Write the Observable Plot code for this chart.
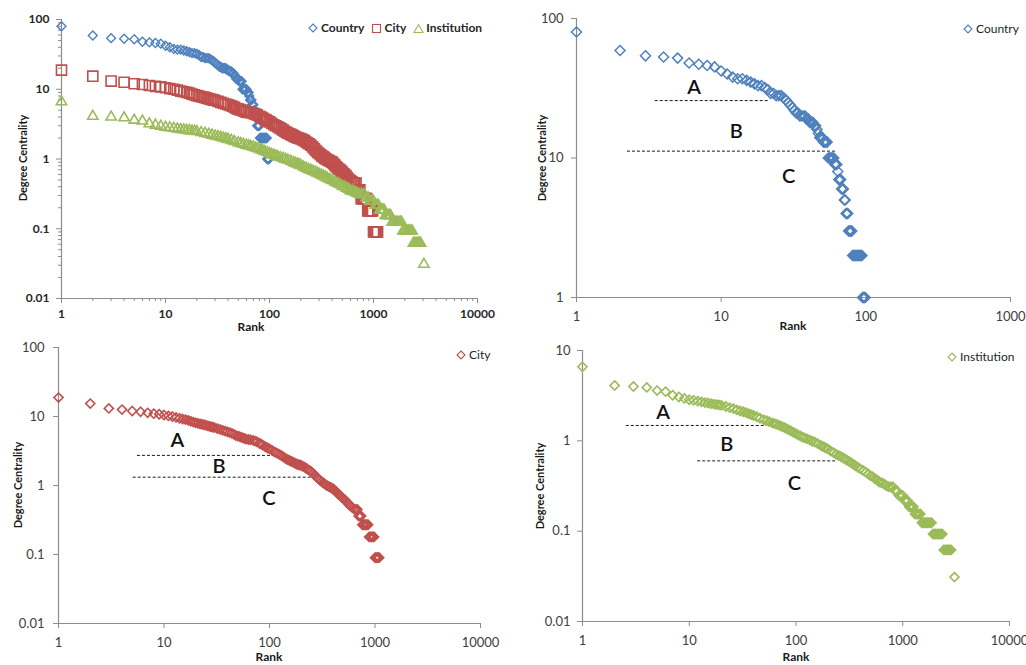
<!DOCTYPE html>
<html><head><meta charset="utf-8">
<script src="https://cdn.jsdelivr.net/npm/d3@7"></script>
<script src="https://cdn.jsdelivr.net/npm/@observablehq/plot@0.6"></script>
<style>
body{margin:0;background:#fff;font-family:Lato,"Open Sans",sans-serif;}
#wrap{position:relative;width:1026px;height:665px;overflow:hidden;background:#fff;}
.t{position:absolute;white-space:nowrap;color:#1a1a1a;line-height:1;}
.rot{transform:translate(-50%,-50%) rotate(-90deg);}
.ctr{transform:translate(-50%,-50%);}
.leg{position:absolute;display:flex;align-items:center;white-space:nowrap;font-size:12px;color:#262626;line-height:1;}
.leg svg{margin-right:2px;}
.leg span{margin-right:7px;}
</style></head>
<body><div id="wrap"></div>
<script>
// ---------------- data ----------------
const countryRank = [1,2,3,4,5,6,7,8,9,10,11,12,13,14,15,16,17,18,19,20,21,22,23,24,25,26,27,28,29,30,31,32,33,34,35,36,37,38,39,40,41,42,43,44,45,46,47,48,49,50,51,52,53,54,55,56,57,58,59,60,61,62,63,64,65,66,67,68,69,70,71,72,73,74,75,76,77,78,79,80,81,82,83,84,85,86,87,88,89,90,91,92,93,94,95,96,97,98,99];
const countryDC   = [80,59,54,53,52,48,47,46,45,42,40,38,37,37,36,35,34,33,33,32,31,29,29,28,28,28,27,26,25,24,23,22,21,21,20,20,20,20,19,19,18,18,18,17,17,16,15,14,14,14,13,13,13,13,10,10,10,10,10,10,9,9,9,8,7,7,7,6,6,6,5,5,4,4,4,3,3,3,3,3,2,2,2,2,2,2,2,2,2,2,2,2,2,2,1,1,1,1,1];

const cityRank = [1,2,3,4,5,6,7,8,9,10,11,12,13,14,15,16,17,18,19,20,21,22,23,24,25,26,27,28,29,30,32,34,36,38,40,42,44,46,48,50,52,54,56,58,60,63,66,70,73,76,80,83,86,90,93,96,100,105,110,115,120,125,130,135,140,145,150,155,160,165,170,175,180,185,190,195,200,207,215,222,230,240,250,260,270,280,290,300,310,320,330,340,350,362,375,387,400,412,425,437,450,462,475,487,500,515,530,545,560,580,600,620,640,660,680,700,720,740,760,780,800,820,840,860,880,900,920,940,960,980,1000,1020,1040,1060,1080,1095];
const cityDC   = [18.8,15.4,13.1,12.6,12.0,11.7,11.3,11.0,10.8,10.5,10.2,10.0,9.7,9.4,9.2,9.0,8.8,8.5,8.3,8.1,7.95,7.8,7.7,7.6,7.45,7.3,7.2,7.1,7.0,6.9,6.7,6.5,6.3,6.15,6.0,5.85,5.7,5.5,5.3,5.2,5.1,5.0,4.9,4.8,4.7,4.65,4.6,4.5,4.4,4.3,4.1,4.0,3.85,3.7,3.6,3.5,3.4,3.25,3.1,3.0,2.9,2.8,2.7,2.6,2.5,2.42,2.35,2.3,2.25,2.2,2.15,2.1,2.05,2.02,2.0,1.97,1.95,1.9,1.85,1.78,1.72,1.65,1.58,1.49,1.4,1.32,1.25,1.2,1.15,1.1,1.07,1.03,1.0,0.97,0.95,0.92,0.9,0.86,0.82,0.78,0.75,0.72,0.7,0.67,0.65,0.62,0.6,0.57,0.54,0.51,0.49,0.47,0.45,0.45,0.45,0.36,0.36,0.36,0.27,0.27,0.27,0.27,0.27,0.27,0.18,0.18,0.18,0.18,0.18,0.18,0.09,0.09,0.09,0.09,0.09,0.09];

const instRank = [1,2,3,4,5,6,7,8,9,10,11,12,13,14,15,16,17,18,19,20,22,24,26,28,30,32,34,36,38,40,43,46,50,53,56,60,63,66,70,74,78,82,86,90,95,100,105,110,115,120,127,135,142,150,160,170,177,185,192,200,212,225,237,250,262,275,287,300,315,330,345,360,380,400,425,450,475,500,525,550,575,600,625,650,675,700,735,770,810,850,885,920,960,1000,1040,1080,1115,1150,1185,1220,1260,1300,1340,1380,1420,1460,1510,1560,1610,1660,1710,1760,1810,1860,1920,1980,2040,2100,2160,2220,2290,2350,2420,2490,2560,2630,2700,2770,2840,3050];
const instDC   = [6.6,4.1,4.0,3.9,3.6,3.5,3.2,3.06,2.95,2.85,2.8,2.75,2.7,2.65,2.62,2.58,2.55,2.52,2.5,2.47,2.4,2.33,2.27,2.2,2.14,2.1,2.05,2.0,1.95,1.91,1.85,1.78,1.71,1.67,1.63,1.58,1.55,1.52,1.48,1.44,1.4,1.36,1.32,1.28,1.24,1.2,1.16,1.13,1.1,1.08,1.05,1.02,0.99,0.97,0.93,0.89,0.87,0.85,0.83,0.81,0.77,0.74,0.71,0.69,0.67,0.65,0.63,0.61,0.59,0.57,0.55,0.53,0.51,0.49,0.47,0.45,0.43,0.41,0.4,0.38,0.37,0.35,0.345,0.34,0.33,0.32,0.31,0.31,0.31,0.279,0.279,0.248,0.248,0.248,0.217,0.217,0.217,0.186,0.186,0.186,0.186,0.155,0.155,0.155,0.155,0.155,0.124,0.124,0.124,0.124,0.124,0.124,0.124,0.124,0.093,0.093,0.093,0.093,0.093,0.093,0.093,0.093,0.062,0.062,0.062,0.062,0.062,0.062,0.062,0.031];

// annotations (A/B/C zones and the dashed cut lines)
const zoneLabels = ["A","B","C"];
const countryZoneX = [6.5,12.7,29.3],  countryZoneY = [31.9,15.5,7.4];
const countryCutY = [25.8,11.2], countryCutFrom = [3.5,2.25], countryCutTo = [21.8,63];
const cityZoneX = [13.4,33.2,98.7],   cityZoneY = [4.55,1.88,0.65];
const cityCutY = [2.73,1.32], cityCutFrom = [5.6,5.1], cityCutTo = [110,263];
const instZoneX = [5.7,22.5,96.8],    instZoneY = [2.05,0.90,0.334];
const instCutY = [1.48,0.60], instCutFrom = [2.57,12], instCutTo = [53,241];

// ticks
const xTicks4 = [1,10,100,1000,10000];
const xTicks3 = [1,10,100,1000];
const yTicks5 = [0.01,0.1,1,10,100];
const yTicksCountry = [1,10,100];
const yTicksInst = [0.01,0.1,1,10];
const minorX = [1,10,100,1000].flatMap(d => [2,3,4,5,6,7,8,9].map(k => k*d));
const minorY = [0.01,0.1,1,10].flatMap(d => [2,3,4,5,6,7,8,9].map(k => +(k*d).toPrecision(3)));

// ---------------- build ----------------
const blue = "#4F81BD", red = "#C0504D", green = "#9BBB59";
const axisGray = "#8c8c8c";
const zip = (xs, ys) => xs.map((x,i) => ({rank:x, dc:ys[i]}));
const country = zip(countryRank, countryDC);
const city = zip(cityRank, cityDC);
const inst = zip(instRank, instDC);
const notes = (xs, ys) => zoneLabels.map((l,i) => ({label:l, x:xs[i], y:ys[i]}));
const cuts = (ys, a, b) => ys.map((y,i) => ({y, x1:a[i], x2:b[i]}));
const fmt = d => String(d);
const wrap = document.getElementById("wrap");

function axes(c) {
  const m = [
    Plot.ruleY([c.yDomain[0]], {stroke: axisGray, strokeWidth: 1.2}),
    Plot.ruleX([c.xDomain[0]], {stroke: axisGray, strokeWidth: 1.2}),
    Plot.axisX({ticks: c.xTicks, tickFormat: fmt, tickSize: 5, tickPadding: c.xPad, stroke: axisGray, fill: c.textColor, fontWeight: c.bold ? "bold" : "normal", fontSize: c.fs, label: null}),
    Plot.axisY({ticks: c.yTicks, tickFormat: fmt, tickSize: 5, tickPadding: c.yPad, stroke: axisGray, fill: c.textColor, fontWeight: c.bold ? "bold" : "normal", fontSize: c.fs, label: null})
  ];
  if (c.minor) {
    m.push(Plot.axisX({ticks: minorX.filter(v => v < c.xDomain[1]), tickFormat: () => "", tickSize: 3, stroke: axisGray, label: null}));
    m.push(Plot.axisY({ticks: minorY.filter(v => v < c.yDomain[1]), tickFormat: () => "", tickSize: 3, stroke: axisGray, label: null}));
  }
  return m;
}

function panel(c, marks) {
  const svg = Plot.plot({
    width: c.width, height: c.height,
    marginLeft: c.ml, marginRight: c.mr, marginTop: c.mt, marginBottom: c.mb,
    x: {type: "log", domain: c.xDomain, label: null},
    y: {type: "log", domain: c.yDomain, label: null},
    style: {fontFamily: "Lato, 'Open Sans', sans-serif", background: "transparent", overflow: "visible"},
    marks: [...axes(c), ...marks]
  });
  svg.style.position = "absolute";
  svg.style.left = c.left + "px";
  svg.style.top = c.top + "px";
  svg.style.maxWidth = "none";
  wrap.appendChild(svg);
}

function zoneMarks(n, k) {
  return [
    Plot.ruleY(k, {y: "y", x1: "x1", x2: "x2", stroke: "#1a1a1a", strokeWidth: 1, strokeDasharray: "3,2"}),
    Plot.text(n, {x: "x", y: "y", text: "label", fontSize: 20, fontWeight: 600, fill: "#111"})
  ];
}

// Panel 1: all three series
panel({left:0, top:0, width:513, height:333, ml:61, mr:36, mt:19, mb:35,
       xDomain:[1,10000], yDomain:[0.01,100], xTicks:xTicks4, yTicks:yTicks5,
       xPad:6, yPad:7, fs:12, bold:true, textColor:"#262626", minor:true}, [
  Plot.dot(country, {x:"rank", y:"dc", symbol:"diamond2", r:4, stroke:blue, fill:"none", strokeWidth:1.4}),
  Plot.dot(city, {x:"rank", y:"dc", symbol:"square2", r:6.4, stroke:red, fill:"none", strokeWidth:1.6}),
  Plot.dot(inst, {x:"rank", y:"dc", symbol:"triangle2", r:4.9, stroke:green, fill:"none", strokeWidth:1.6})
]);

// Panel 2: Country
panel({left:513, top:0, width:513, height:333, ml:63, mr:16, mt:18, mb:36,
       xDomain:[1,1000], yDomain:[1,100], xTicks:xTicks3, yTicks:yTicksCountry,
       xPad:9, yPad:8, fs:13, bold:false, textColor:"#404040"}, [
  ...zoneMarks(notes(countryZoneX, countryZoneY), cuts(countryCutY, countryCutFrom, countryCutTo)),
  Plot.dot(country, {x:"rank", y:"dc", symbol:"diamond2", r:4.5, stroke:blue, fill:"none", strokeWidth:1.5})
]);

// Panel 3: City
panel({left:0, top:333, width:513, height:332, ml:58, mr:33, mt:14, mb:42,
       xDomain:[1,10000], yDomain:[0.01,100], xTicks:xTicks4, yTicks:yTicks5,
       xPad:9, yPad:9, fs:13, bold:false, textColor:"#404040"}, [
  ...zoneMarks(notes(cityZoneX, cityZoneY), cuts(cityCutY, cityCutFrom, cityCutTo)),
  Plot.dot(city, {x:"rank", y:"dc", symbol:"diamond2", r:4.1, stroke:red, fill:"none", strokeWidth:1.6})
]);

// Panel 4: Institution
panel({left:513, top:333, width:513, height:332, ml:69, mr:17, mt:17, mb:44,
       xDomain:[1,10000], yDomain:[0.01,10], xTicks:xTicks4, yTicks:yTicksInst,
       xPad:9, yPad:7, fs:13, bold:false, textColor:"#404040"}, [
  ...zoneMarks(notes(instZoneX, instZoneY), cuts(instCutY, instCutFrom, instCutTo)),
  Plot.dot(inst, {x:"rank", y:"dc", symbol:"diamond2", r:4.1, stroke:green, fill:"none", strokeWidth:1.6})
]);

// ---------------- axis titles & legends (HTML) ----------------
function label(text, x, y, cls, size) {
  const d = document.createElement("div");
  d.className = "t " + cls;
  d.textContent = text;
  d.style.left = x + "px"; d.style.top = y + "px";
  d.style.fontSize = size + "px"; d.style.fontWeight = "bold";
  wrap.appendChild(d);
}
label("Degree Centrality", 22, 158, "rot", 11);
label("Rank", 251, 327, "ctr", 12);
label("Degree Centrality", 541, 158, "rot", 11);
label("Rank", 793, 326, "ctr", 12);
label("Degree Centrality", 17, 485, "rot", 11);
label("Rank", 269, 657, "ctr", 12);
label("Degree Centrality", 539, 486, "rot", 11);
label("Rank", 796, 657, "ctr", 12);

const shapes = {
  diamond: '<path d="M5,1 L9,5 L5,9 L1,5 Z"/>',
  square: '<rect x="1.5" y="1.5" width="8" height="8"/>',
  triangle: '<path d="M5.5,1.5 L10,9.5 L1,9.5 Z"/>'
};
function legend(items, x, y, bold) {
  const d = document.createElement("div");
  d.className = "leg";
  d.style.left = x + "px"; d.style.top = y + "px";
  d.style.transform = "translateY(-50%)";
  if (bold) d.style.fontWeight = "bold";
  d.innerHTML = items.map(([name, shape, col]) =>
    `<svg width="11" height="11" viewBox="0 0 11 11" fill="none" stroke="${col}" stroke-width="1.1">${shapes[shape]}</svg><span>${name}</span>`
  ).join("");
  wrap.appendChild(d);
}
legend([["Country","diamond",blue],["City","square",red],["Institution","triangle",green]], 308, 28, true);
legend([["Country","diamond",blue]], 963, 29, false);
legend([["City","diamond",red]], 456, 355, false);
legend([["Institution","diamond",green]], 947, 357, false);
</script>
</body></html>
